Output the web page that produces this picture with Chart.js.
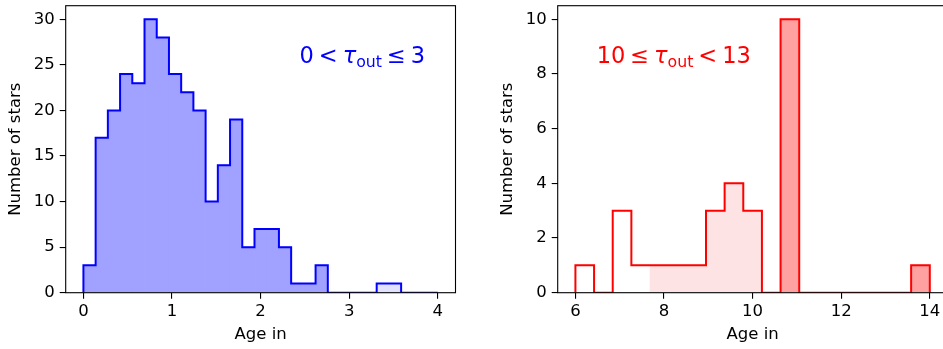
<!DOCTYPE html>
<html>
<head>
<meta charset="utf-8">
<script src="https://cdn.jsdelivr.net/npm/chart.js@4/dist/chart.umd.min.js"></script>
<style>
  html, body { margin: 0; padding: 0; background: #fff; overflow: hidden; width: 943px; height: 349px; }
  .panel { position: absolute; top: 0; height: 349px; overflow: hidden; }
  #left { left: 0; width: 470px; }
  /* the right-hand plot box runs a few pixels past the page edge */
  #right { left: 492px; width: 451px; }
  canvas { display: block; }
</style>
</head>
<body>
<div class="panel" id="left"><canvas id="young" width="470" height="349"></canvas></div>
<div class="panel" id="right"><canvas id="old" width="470" height="349"></canvas></div>
<script>
// ---- Stars with 0 < tau_out <= 3: 29 equal-width age bins over [0, 4] ----
const youngRange = [0, 4];
const youngCounts = [3, 17, 20, 24, 23, 30, 28, 24, 22, 20, 10, 14, 19, 5, 7, 7, 5, 1, 1, 3, 0, 0, 0, 0, 1, 1, 0, 0, 0];
// shading of each bin: 's' = strong fill, 'f' = faint fill, '' = outline only
const youngShade = ['s','s','s','s','s','s','s','s','s','s','s','s','s','s','s','s','s','s','s','s','','','','','f','f','','',''];
const youngXTicks = [0, 1, 2, 3, 4];
const youngYTicks = [0, 5, 10, 15, 20, 25, 30];

// ---- Stars with 10 <= tau_out < 13: 19 equal-width age bins over [6, 14] ----
const oldRange = [6, 14];
const oldCounts = [1, 0, 3, 1, 1, 1, 1, 3, 4, 3, 0, 10, 0, 0, 0, 0, 0, 0, 1];
const oldShade = ['', '', '', '', 'f', 'f', 'f', 'f', 'f', 'f', '', 's', '', '', '', '', '', '', 's'];
const oldXTicks = [6, 8, 10, 12, 14];
const oldYTicks = [0, 2, 4, 6, 8, 10];

const FONT = 'DejaVu Sans';

// box frame round the plot area, drawn over the histogram
const framePlugin = {
  id: 'frame',
  afterDatasetsDraw(chart) {
    const { ctx, chartArea: a } = chart;
    ctx.save();
    ctx.strokeStyle = '#000';
    ctx.lineWidth = 1.1;
    ctx.strokeRect(a.left, a.top, a.right - a.left, a.bottom - a.top);
    ctx.restore();
  }
};

// in-plot label with a subscripted tau
const rangeLabelPlugin = {
  id: 'rangeLabel',
  afterDatasetsDraw(chart, args, opts) {
    if (!opts || !opts.parts) return;
    const { ctx, chartArea: a } = chart;
    const size = opts.size;
    let x = a.left + opts.fx * (a.right - a.left);
    const y = a.bottom - opts.fy * (a.bottom - a.top);
    ctx.save();
    ctx.fillStyle = opts.color;
    ctx.textAlign = 'left';
    ctx.textBaseline = 'alphabetic';
    for (const p of opts.parts) {
      if (p.gap) { x += p.gap * size; continue; }
      const s = p.sub ? size * 0.7 : size;
      ctx.font = (p.italic ? 'italic ' : '') + s + 'px "' + FONT + '"';
      ctx.fillText(p.text, x, y + (p.sub ? size * 0.17 : 0));
      x += ctx.measureText(p.text).width;
    }
    ctx.restore();
  }
};

function makeHistogram(canvasId, cfg) {
  const [lo, hi] = cfg.range;
  const n = cfg.counts.length;
  const edges = [];
  for (let i = 0; i <= n; i++) edges.push(lo + (hi - lo) * i / n);

  const bars = cfg.counts.map((c, i) => ({ x: (edges[i] + edges[i + 1]) / 2, y: c }));
  const fills = cfg.shade.map(s => s === 's' ? cfg.strong : s === 'f' ? cfg.faint : 'rgba(0,0,0,0)');

  // step outline: two points at every bin edge
  const outline = [];
  for (let i = 0; i <= n; i++) {
    const before = i > 0 ? cfg.counts[i - 1] : 0;
    const after = i < n ? cfg.counts[i] : 0;
    outline.push({ x: edges[i], y: before });
    outline.push({ x: edges[i], y: after });
  }

  const span = hi - lo;
  const yMax = Math.max(...cfg.counts) * 1.05;

  const tickFont = { family: FONT, size: 16.5 };

  return new Chart(document.getElementById(canvasId), {
    type: 'bar',
    data: {
      datasets: [
        {
          type: 'line',
          data: outline,
          borderColor: cfg.line,
          borderWidth: 2,
          pointRadius: 0,
          tension: 0,
          fill: false,
          order: 0
        },
        {
          type: 'bar',
          data: bars,
          backgroundColor: fills,
          borderWidth: 0,
          barPercentage: 1,
          categoryPercentage: 1,
          order: 1
        }
      ]
    },
    options: {
      responsive: false,
      animation: false,
      devicePixelRatio: 1,
      layout: { padding: { left: 0, right: 14.5, top: 5.7, bottom: 0 } },
      plugins: {
        legend: { display: false },
        tooltip: { enabled: false },
        rangeLabel: cfg.label
      },
      scales: {
        x: {
          type: 'linear',
          offset: false,
          min: lo - 0.05 * span,
          max: hi + 0.05 * span,
          afterBuildTicks: s => { s.ticks = cfg.xTicks.map(v => ({ value: v })); },
          afterFit: s => { s.height = 56.3; s.paddingLeft = 0; s.paddingRight = 0; },
          border: { display: false },
          grid: { offset: false, drawOnChartArea: false, drawTicks: true, tickLength: 6, tickColor: '#000', lineWidth: 1.1 },
          ticks: { font: tickFont, color: '#000', padding: 3, maxRotation: 0 },
          title: { display: true, text: 'Age in', font: { family: FONT, size: 16.5 }, color: '#000', padding: { top: 0, bottom: 4 } }
        },
        y: {
          min: 0,
          max: yMax,
          afterBuildTicks: s => { s.ticks = cfg.yTicks.map(v => ({ value: v })); },
          afterFit: s => { s.width = 65.7; s.paddingTop = 0; s.paddingBottom = 0; },
          border: { display: false },
          grid: { offset: false, drawOnChartArea: false, drawTicks: true, tickLength: 6, tickColor: '#000', lineWidth: 1.1 },
          ticks: { font: tickFont, color: '#000', padding: 5 },
          title: { display: true, text: 'Number of stars', font: { family: FONT, size: 16.5 }, color: '#000', padding: { top: 6, bottom: 0 } }
        }
      }
    },
    plugins: [framePlugin, rangeLabelPlugin]
  });
}

makeHistogram('young', {
  range: youngRange,
  counts: youngCounts,
  shade: youngShade,
  xTicks: youngXTicks,
  yTicks: youngYTicks,
  line: '#0000ff',
  strong: '#a1a1ff',
  faint: '#e2e2fd',
  label: {
    color: '#0000ff', size: 22.5, fx: 0.6, fy: 0.8,
    parts: [
      { text: '0' }, { gap: 0.22 }, { text: '<' }, { gap: 0.22 },
      { text: 'τ', italic: true }, { text: 'out', sub: true }, { gap: 0.22 },
      { text: '≤' }, { gap: 0.22 }, { text: '3' }
    ]
  }
});

makeHistogram('old', {
  range: oldRange,
  counts: oldCounts,
  shade: oldShade,
  xTicks: oldXTicks,
  yTicks: oldYTicks,
  line: '#ff0000',
  strong: '#ffa1a1',
  faint: '#fde3e3',
  label: {
    color: '#ff0000', size: 22.5, fx: 0.1, fy: 0.8,
    parts: [
      { text: '10' }, { gap: 0.22 }, { text: '≤' }, { gap: 0.22 },
      { text: 'τ', italic: true }, { text: 'out', sub: true }, { gap: 0.22 },
      { text: '<' }, { gap: 0.22 }, { text: '13' }
    ]
  }
});
</script>
</body>
</html>
